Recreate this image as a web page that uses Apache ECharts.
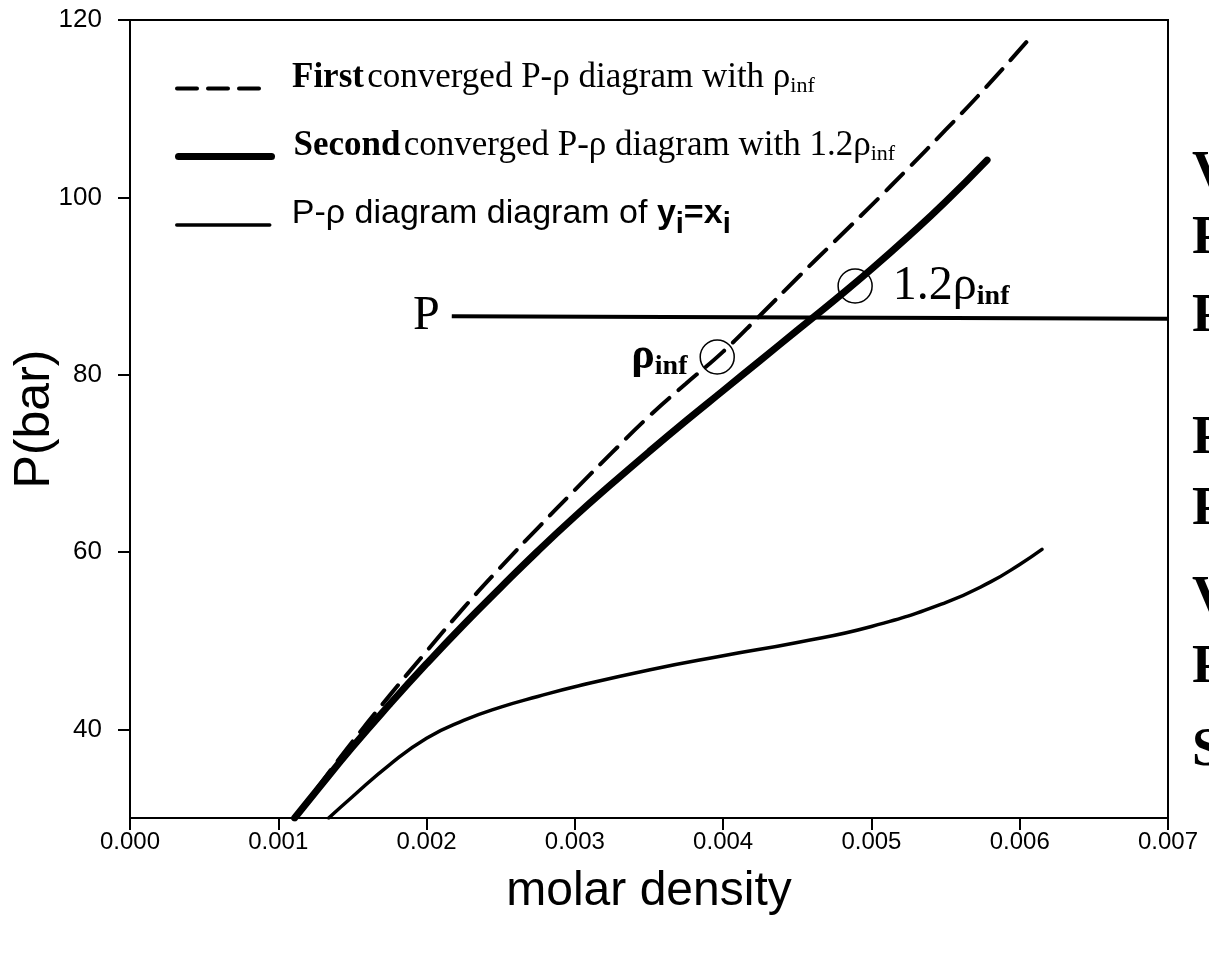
<!DOCTYPE html>
<html><head><meta charset="utf-8">
<script src="https://cdn.jsdelivr.net/npm/echarts@6/dist/echarts.min.js"></script>
<style>html,body{margin:0;padding:0;background:#fff;overflow:hidden}#c{width:1209px;height:960px}</style>
</head><body><div id="c"></div>
<script>
// ---- data ----
const firstX  = [0.00111,0.00125,0.0015,0.00175,0.002,0.00225,0.0025,0.00275,0.003,0.00325,0.0035,0.00375,0.004,0.00425,0.0045,0.00475,0.005,0.00525,0.0055,0.00575,0.00605];
const firstP  = [30,33.1,38.6,43.8,48.8,53.7,58.3,62.7,67.0,71.2,75.3,79.0,82.6,86.7,90.9,95.0,99.1,103.3,107.6,112.0,117.6];
const secondX = [0.00111,0.00125,0.0015,0.00175,0.002,0.00225,0.0025,0.00275,0.003,0.00325,0.0035,0.00375,0.004,0.00425,0.0045,0.00475,0.005,0.00525,0.0055,0.00578];
const secondP = [30,32.9,38.0,42.8,47.4,51.8,56.0,60.1,64.0,67.7,71.3,74.8,78.2,81.6,85.0,88.4,91.9,95.6,99.5,104.2];
const yxX     = [0.00134,0.0015,0.00175,0.002,0.00225,0.0025,0.00275,0.003,0.0035,0.004,0.0045,0.005,0.0055,0.0058,0.006,0.00615];
const yxP     = [30,32.4,36.0,39.0,41.0,42.5,43.7,44.8,46.7,48.3,49.8,51.6,54.3,56.6,58.6,60.3];
const pLineX  = [0.00217,0.007];
const pLineP  = [86.6,86.3];
const markX   = [0.00396,0.00489];
const markP   = [82.0,90.0];
const xTicks  = [0,0.001,0.002,0.003,0.004,0.005,0.006,0.007];
const yTicks  = [40,60,80,100,120];
const edgeLetters = ['V','P','P','P','P','V','P','S'];
const edgeY       = [175,240,318,440,511,600,669,752];

const N1 = 'First converged P-ρ diagram with ρinf';
const N2 = 'Second converged P-ρ diagram with 1.2ρinf';
const N3 = 'P-ρ diagram diagram of yi=xi';
const zip = (a,b)=>a.map((v,i)=>[v,b[i]]);

const SERIF = 'Liberation Serif', SANS = 'Liberation Sans';
const rich = {
  b:{fontFamily:SERIF,fontWeight:'bold',fontSize:35,color:'#000'},
  n:{fontFamily:SERIF,fontSize:35,color:'#000'},
  s:{fontFamily:SERIF,fontSize:22,color:'#000',padding:[18,0,0,0]},
  a:{fontFamily:SANS,fontSize:34,color:'#000'},
  ab:{fontFamily:SANS,fontWeight:'bold',fontSize:34,color:'#000'},
  as:{fontFamily:SANS,fontWeight:'bold',fontSize:29,color:'#000',padding:[22,0,0,0]}
};
function mkLegend(top, name, width, pad, fmt, dash){
  return {orient:'vertical',left:175,top:top,padding:0,itemWidth:width,itemHeight:16,itemGap:0,
    itemStyle:{color:'rgba(0,0,0,0)',borderColor:'rgba(0,0,0,0)',borderWidth:0},
    lineStyle:dash?{width:'inherit',type:dash}:{width:'inherit'},
    selectedMode:false,data:[name],formatter:()=>fmt,
    textStyle:{rich:rich,padding:[0,0,22,pad]}};
}

const chart = echarts.init(document.getElementById('c'));
chart.setOption({
  backgroundColor:'#fff',
  animation:false,
  grid:{left:130,right:41,top:20,bottom:142,containLabel:false,outerBoundsMode:'none',
    show:true,borderColor:'#000',borderWidth:2,backgroundColor:'transparent'},
  legend:[
    mkLegend(60, N1, 82, 28, '{b|First} {n|converged P-ρ diagram with ρ}{s|inf}', [20,11]),
    mkLegend(128, N2, 93, 17, '{b|Second} {n|converged P-ρ diagram with 1.2ρ}{s|inf}'),
    mkLegend(197, N3, 93, 17, '{a|P-ρ diagram diagram of }{ab|y}{as|i}{ab|=x}{as|i}')
  ],
  xAxis:{type:'value',min:xTicks[0],max:xTicks[xTicks.length-1],interval:0.001,
    name:'molar density',nameLocation:'middle',nameGap:50,nameMoveOverlap:false,
    nameTextStyle:{fontFamily:SANS,fontSize:48,color:'#000'},
    axisLine:{lineStyle:{color:'#000',width:2}},
    axisTick:{inside:false,length:12,lineStyle:{color:'#000',width:2}},
    axisLabel:{fontFamily:SANS,fontSize:24,color:'#000',margin:12,formatter:v=>v.toFixed(3)},
    splitLine:{show:false}},
  yAxis:{type:'value',min:30,max:120,
    name:'P(bar)',nameLocation:'middle',nameGap:70,nameRotate:90,nameMoveOverlap:false,
    nameTextStyle:{fontFamily:SANS,fontSize:50,color:'#000'},
    axisLine:{lineStyle:{color:'#000',width:2}},
    axisTick:{inside:false,length:12,lineStyle:{color:'#000',width:2},customValues:yTicks},
    axisLabel:{fontFamily:SANS,fontSize:26,color:'#000',margin:28,customValues:yTicks},
    splitLine:{show:false}},
  series:[
    {name:N1,type:'line',smooth:true,symbol:'none',data:zip(firstX,firstP),
      lineStyle:{color:'#000',width:4,type:[24,12],cap:'round'}},
    {name:N2,type:'line',smooth:true,symbol:'none',data:zip(secondX,secondP),
      lineStyle:{color:'#000',width:7,cap:'round'}},
    {name:N3,type:'line',smooth:true,symbol:'none',data:zip(yxX,yxP),
      lineStyle:{color:'#000',width:3.5,cap:'round'}},
    {name:'P',type:'line',symbol:'none',data:zip(pLineX,pLineP),
      lineStyle:{color:'#000',width:4}},
    {name:'P label',type:'scatter',symbolSize:0,itemStyle:{opacity:1},data:[[pLineX[0],pLineP[0]]],
      label:{show:true,position:'left',distance:12,formatter:'P',fontFamily:SERIF,fontSize:48,color:'#000',opacity:1}},
    {name:'markers',type:'scatter',symbol:'circle',symbolSize:34,z:5,
      itemStyle:{color:'rgba(0,0,0,0)',borderColor:'#000',borderWidth:1.5,opacity:1},
      data:[
        {value:[markX[0],markP[0]],label:{show:true,position:'left',distance:12,
          formatter:'{r|ρ}{s|inf}',rich:{r:{fontFamily:SERIF,fontWeight:'bold',fontSize:44,color:'#000'},s:{fontFamily:SERIF,fontWeight:'bold',fontSize:28,color:'#000',padding:[20,0,0,0]}}}},
        {value:[markX[1],markP[1]],label:{show:true,position:'right',distance:20,
          formatter:'{r|1.2ρ}{s|inf}',rich:{r:{fontFamily:SERIF,fontSize:48,color:'#000'},s:{fontFamily:SERIF,fontWeight:'bold',fontSize:28,color:'#000',padding:[22,0,0,0]}}}}
      ]}
  ],
  graphic: edgeLetters.map((t,i)=>({type:'text',left:1192,top:edgeY[i]-28,silent:true,
    style:{text:t,fontFamily:SERIF,fontWeight:'bold',fontSize:54,fill:'#000'}}))
});
</script></body></html>
